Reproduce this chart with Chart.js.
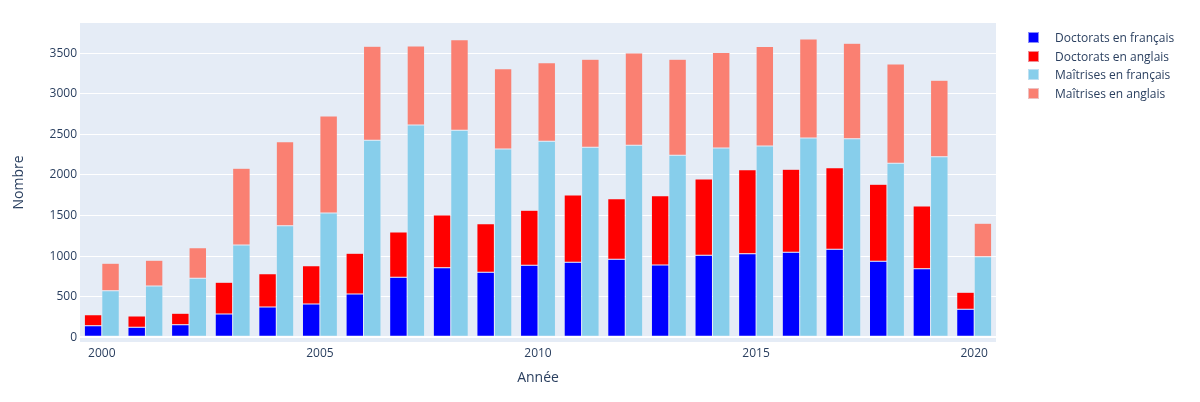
<!DOCTYPE html>
<html>
<head>
<meta charset="utf-8">
<script src="https://cdn.jsdelivr.net/npm/chart.js@4"></script>
<style>
    body { margin: 0; background: #fff; font-family: "Open Sans", sans-serif; }
    #wrap { position: relative; width: 1200px; height: 402px; }
    #legend { position: absolute; left: 1028px; top: 28px; font-size: 12px; color: #2a3f5f; }
    .item { display: flex; align-items: center; height: 18.7px; }
    .box { width: 11px; height: 11px; margin-right: 16px; box-sizing: border-box; border: 1px solid rgba(229,236,246,0.6); }
</style>
</head>
<body>
<div id="wrap">
    <canvas id="chart" width="1200" height="402"></canvas>
    <div id="legend"></div>
</div>
<script>
const years = ['2000', '2001', '2002', '2003', '2004', '2005', '2006', '2007', '2008', '2009', '2010',
    '2011', '2012', '2013', '2014', '2015', '2016', '2017', '2018', '2019', '2020'];
const docFr = [143, 123, 155, 287, 373, 410, 534, 739, 858, 801, 887, 924, 961, 891, 1011, 1030, 1048, 1085, 937, 846, 345];
const docEn = [136, 139, 141, 391, 411, 473, 501, 559, 649, 599, 678, 830, 747, 854, 940, 1036, 1022, 1005, 949, 772, 210];
const maiFr = [574, 632, 727, 1138, 1375, 1532, 2428, 2616, 2551, 2321, 2415, 2341, 2366, 2243, 2333, 2358, 2456, 2448, 2144, 2226, 993];
const maiEn = [338, 317, 377, 945, 1036, 1195, 1158, 974, 1117, 989, 969, 1085, 1138, 1183, 1175, 1224, 1220, 1175, 1224, 941, 412];
const xTicks = ['2000', '2005', '2010', '2015', '2020'];
const yTicks = [0, 500, 1000, 1500, 2000, 2500, 3000, 3500];

const textColor = '#2a3f5f';
Chart.defaults.font.family = '"Open Sans", sans-serif';
Chart.defaults.color = textColor;

function bar(label, data, color, stack) {
    return {
        label: label,
        data: data,
        backgroundColor: color,
        borderColor: '#E5ECF6',
        borderWidth: 0.5,
        borderSkipped: false,
        stack: stack,
        barPercentage: 1,
        categoryPercentage: 0.8
    };
}

const plotBg = {
    id: 'plotBg',
    beforeDraw(chart) {
        const a = chart.chartArea;
        const ctx = chart.ctx;
        ctx.save();
        ctx.fillStyle = '#E5ECF6';
        ctx.fillRect(a.left, a.top, a.right - a.left, a.bottom - a.top);
        ctx.restore();
    }
};

const chart = new Chart(document.getElementById('chart'), {
    type: 'bar',
    data: {
        labels: years,
        datasets: [
            bar('Doctorats en français', docFr, '#0000ff', 'doc'),
            bar('Doctorats en anglais', docEn, '#ff0000', 'doc'),
            bar('Maîtrises en français', maiFr, '#87ceeb', 'mai'),
            bar('Maîtrises en anglais', maiEn, '#fa8072', 'mai')
        ]
    },
    options: {
        responsive: false,
        animation: false,
        layout: { padding: { left: 0, right: 204, top: 23, bottom: 0 } },
        plugins: {
            legend: { display: false },
            tooltip: { enabled: false }
        },
        scales: {
            x: {
                stacked: true,
                grid: { display: false, drawTicks: false },
                border: { display: false },
                ticks: {
                    autoSkip: false,
                    maxRotation: 0,
                    padding: 4,
                    font: { size: 12 },
                    callback: function (v, i) {
                        const y = years[i];
                        return xTicks.includes(y) ? y : '';
                    }
                },
                title: { display: true, text: 'Année', font: { size: 14 }, padding: { top: 0, bottom: 16 } },
                afterFit: function (s) { s.height = 60; }
            },
            y: {
                stacked: true,
                min: -58,
                max: 3873,
                grid: {
                    color: '#ffffff',
                    lineWidth: (c) => (c.tick && c.tick.value === 0 ? 2 : 1),
                    drawTicks: false
                },
                border: { display: false },
                ticks: {
                    padding: 3,
                    font: { size: 12 },
                    callback: (v) => String(v)
                },
                afterBuildTicks: function (s) {
                    s.ticks = yTicks.map(v => ({ value: v }));
                },
                title: { display: true, text: 'Nombre', font: { size: 14 }, padding: { top: 11, bottom: 0 } },
                afterFit: function (s) { s.width = 80; }
            }
        }
    },
    plugins: [plotBg]
});

// legend
const legend = document.getElementById('legend');
chart.data.datasets.forEach(function (ds) {
    const item = document.createElement('div');
    item.className = 'item';
    const box = document.createElement('span');
    box.className = 'box';
    box.style.background = ds.backgroundColor;
    const txt = document.createElement('span');
    txt.textContent = ds.label;
    item.appendChild(box);
    item.appendChild(txt);
    legend.appendChild(item);
});
</script>
</body>
</html>
